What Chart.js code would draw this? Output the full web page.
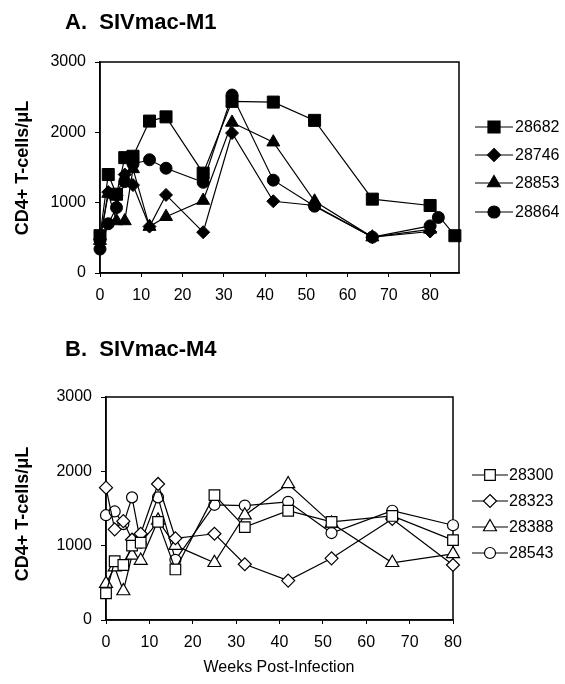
<!DOCTYPE html>
<html><head><meta charset="utf-8">
<script src="https://cdn.jsdelivr.net/npm/chart.js@4.4.1/dist/chart.umd.min.js"></script>
<style>
html,body{margin:0;padding:0;background:#fff;}
#wrap{position:relative;width:565px;height:684px;overflow:hidden;font-family:Arial,"Liberation Sans",sans-serif;background:#fff;}
canvas{position:absolute;left:0;top:0;}
.t{position:absolute;white-space:pre;color:#000;line-height:1;}
.title{font-weight:bold;font-size:22px;}
.ytitle{font-weight:bold;font-size:18px;transform:translate(-50%,-50%) rotate(-90deg);}
.xtitle{font-size:16px;transform:translate(-50%,-50%);}
</style></head>
<body><div id="wrap">
<canvas id="cA" width="565" height="684"></canvas>
<canvas id="cB" width="565" height="684"></canvas>
<div class="t title" style="left:65px;top:11px">A.  SIVmac-M1</div>
<div class="t title" style="left:65px;top:338px">B.  SIVmac-M4</div>
<div class="t ytitle" style="left:22px;top:168px">CD4+ T-cells/μL</div>
<div class="t ytitle" style="left:22px;top:514px">CD4+ T-cells/μL</div>
<div class="t xtitle" style="left:279px;top:667px">Weeks Post-Infection</div>
</div>
<script>
// ---- Panel A: SIVmac-M1 ----
const labelsA = ["28682", "28746", "28853", "28864"];
const weeks28682 = [0, 2, 4, 6, 8, 12, 16, 25, 32, 42, 52, 66, 80, 86];
const vals28682  = [530, 1400, 1120, 1640, 1660, 2160, 2220, 1420, 2440, 2430, 2170, 1050, 960, 530];
const weeks28746 = [0, 2, 4, 6, 8, 12, 16, 25, 32, 42, 52, 66, 80];
const vals28746  = [480, 1150, 1100, 1400, 1250, 660, 1110, 580, 1990, 1020, 960, 510, 590];
const weeks28853 = [0, 2, 4, 6, 8, 12, 16, 25, 32, 42, 52, 66, 80];
const vals28853  = [460, 1130, 740, 740, 1480, 660, 800, 1030, 2140, 1860, 1020, 510, 620];
const weeks28864 = [0, 2, 4, 6, 8, 12, 16, 25, 32, 42, 52, 66, 80, 82];
const vals28864  = [340, 700, 930, 1300, 1550, 1610, 1490, 1290, 2530, 1320, 950, 510, 670, 790];

// ---- Panel B: SIVmac-M4 ----
const labelsB = ["28300", "28323", "28388", "28543"];
const weeksB = [0, 2, 4, 6, 8, 12, 16, 25, 32, 42, 52, 66, 80];
const vals28300 = [360, 790, 740, 1000, 1040, 1320, 680, 1680, 1250, 1470, 1320, 1400, 1075];
const vals28323 = [1780, 1220, 1330, 1080, 1160, 1830, 1100, 1160, 750, 530, 830, 1360, 740];
const vals28388 = [490, 710, 390, 870, 800, 1340, 1000, 770, 1410, 1830, 1300, 770, 890];
const vals28543 = [1410, 1460, 1290, 1650, 1040, 1650, 810, 1550, 1540, 1590, 1170, 1470, 1275];

const yTicks = [0, 1000, 2000, 3000];
const xTicks = [0, 10, 20, 30, 40, 50, 60, 70, 80];

function pts(w, v) { return w.map((x, i) => ({x: x, y: v[i]})); }

function ds(label, w, v, style, r, filled) {
  return {
    label: label, data: pts(w, v),
    borderColor: '#000', borderWidth: 1.2,
    pointStyle: style, pointRadius: r, pointHoverRadius: r,
    pointBackgroundColor: filled ? '#000' : '#fff',
    pointBorderColor: '#000', pointBorderWidth: filled ? 1 : 1.2,
    showLine: true, fill: false, tension: 0, clip: false
  };
}

function drawMarker(ctx, style, x, y, r, fill) {
  ctx.beginPath();
  if (style === 'rect') {
    const s = Math.SQRT1_2 * r;
    ctx.rect(x - s, y - s, 2 * s, 2 * s);
  } else if (style === 'circle') {
    ctx.arc(x, y, r, 0, Math.PI * 2);
  } else if (style === 'rectRot') {
    ctx.moveTo(x, y - r); ctx.lineTo(x + r, y); ctx.lineTo(x, y + r); ctx.lineTo(x - r, y); ctx.closePath();
  } else if (style === 'triangle') {
    let a = 0;
    ctx.moveTo(x + Math.sin(a) * r, y - Math.cos(a) * r);
    a += Math.PI * 2 / 3; ctx.lineTo(x + Math.sin(a) * r, y - Math.cos(a) * r);
    a += Math.PI * 2 / 3; ctx.lineTo(x + Math.sin(a) * r, y - Math.cos(a) * r);
    ctx.closePath();
  }
  ctx.fillStyle = fill; ctx.fill();
  ctx.strokeStyle = '#000'; ctx.lineWidth = 1.2; ctx.stroke();
}

const boxPlugin = {
  id: 'boxPlugin',
  beforeDatasetsDraw(chart) {
    const a = chart.chartArea, ctx = chart.ctx;
    ctx.save(); ctx.strokeStyle = '#000'; ctx.lineWidth = 1.5;
    ctx.strokeRect(a.left, a.top, a.right - a.left, a.bottom - a.top);
    ctx.restore();
  },
  afterDraw(chart, args, opts) {
    const ctx = chart.ctx;
    ctx.save();
    chart.data.datasets.forEach((d, i) => {
      const y = opts.ys[i];
      ctx.strokeStyle = '#000'; ctx.lineWidth = 1.2;
      ctx.beginPath(); ctx.moveTo(opts.x0, y); ctx.lineTo(opts.x1, y); ctx.stroke();
      drawMarker(ctx, d.pointStyle, (opts.x0 + opts.x1) / 2, y, d.pointRadius, d.pointBackgroundColor);
      ctx.fillStyle = '#000'; ctx.font = '16px Arial, "Liberation Sans", sans-serif';
      ctx.textAlign = 'left'; ctx.textBaseline = 'middle';
      ctx.fillText(d.label, opts.tx, y + 1);
    });
    ctx.restore();
  }
};

function makeChart(id, datasets, area, xmax, legend) {
  const yW = 60, xH = 40;
  const tickFont = { size: 16, family: 'Arial, "Liberation Sans", sans-serif' };
  return new Chart(document.getElementById(id), {
    type: 'scatter',
    data: { datasets: datasets },
    plugins: [boxPlugin],
    options: {
      responsive: false, animation: false, devicePixelRatio: 1,
      layout: { padding: { left: area.left - yW, right: 565 - area.right, top: area.top, bottom: 684 - area.bottom - xH } },
      plugins: { legend: { display: false }, tooltip: { enabled: false }, boxPlugin: legend },
      scales: {
        x: {
          type: 'linear', min: 0, max: xmax,
          afterFit(s) { s.height = xH; },
          afterBuildTicks(s) { s.ticks = xTicks.map(v => ({value: v})); },
          ticks: { color: '#000', font: tickFont, padding: 9, maxRotation: 0, autoSkip: false, callback: v => String(v) },
          grid: { display: true, drawOnChartArea: false, drawTicks: true, tickLength: 4, color: '#000', lineWidth: 1 },
          border: { display: true, color: '#000', width: 1.5 }
        },
        y: {
          type: 'linear', min: 0, max: 3000,
          afterFit(s) { s.width = yW; },
          afterBuildTicks(s) { s.ticks = yTicks.map(v => ({value: v})); },
          ticks: { color: '#000', font: tickFont, padding: 9, autoSkip: false, callback: v => String(v) },
          grid: { display: true, drawOnChartArea: false, drawTicks: true, tickLength: 5, color: '#000', lineWidth: 1 },
          border: { display: true, color: '#000', width: 1.5 }
        }
      }
    }
  });
}

makeChart('cA', [
  ds(labelsA[0], weeks28682, vals28682, 'rect', 8.5, true),
  ds(labelsA[1], weeks28746, vals28746, 'rectRot', 6.5, true),
  ds(labelsA[2], weeks28853, vals28853, 'triangle', 7.5, true),
  ds(labelsA[3], weeks28864, vals28864, 'circle', 6, true)
], {left: 100, right: 459, top: 62, bottom: 273}, 87, {x0: 475, x1: 513, tx: 515, ys: [127, 155, 183, 212]});

makeChart('cB', [
  ds(labelsB[0], weeksB, vals28300, 'rect', 7.5, false),
  ds(labelsB[1], weeksB, vals28323, 'rectRot', 6.5, false),
  ds(labelsB[2], weeksB, vals28388, 'triangle', 7.5, false),
  ds(labelsB[3], weeksB, vals28543, 'circle', 5.5, false)
], {left: 106, right: 453, top: 397, bottom: 620}, 80, {x0: 472, x1: 508, tx: 509, ys: [475, 501, 527, 553]});
</script>
</body></html>
